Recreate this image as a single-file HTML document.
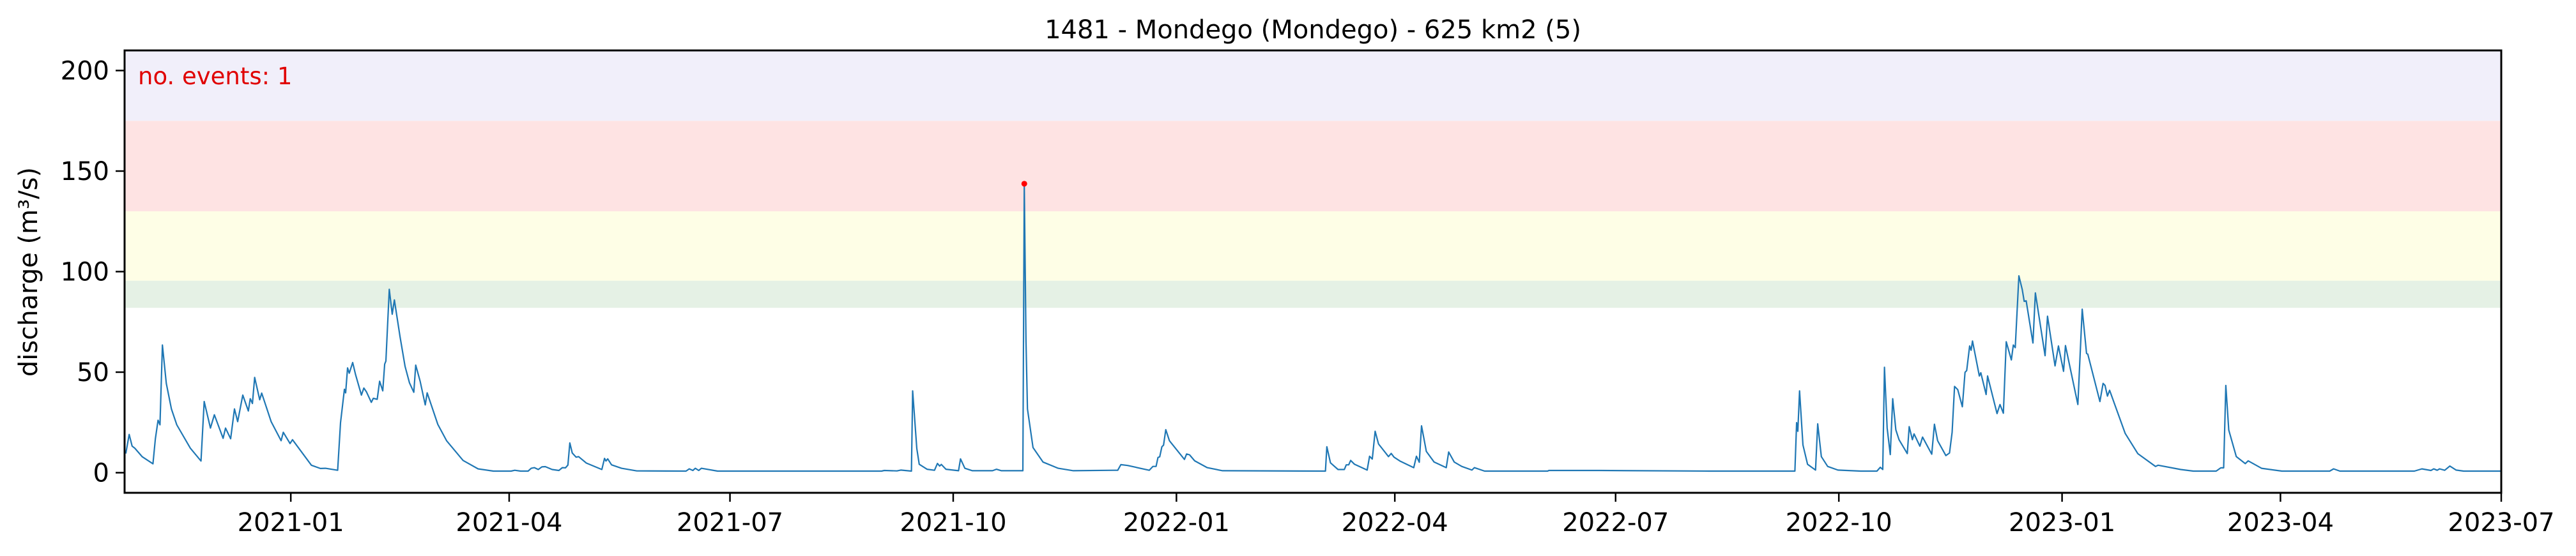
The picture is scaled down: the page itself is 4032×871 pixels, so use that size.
<!DOCTYPE html>
<html><head><meta charset="utf-8"><style>
html,body{margin:0;padding:0;background:#fff;}
svg{display:block;font-family:"DejaVu Sans","Liberation Sans",sans-serif;}
</style></head><body>
<svg id="chart" width="4032" height="871" viewBox="0 0 4032 871" xmlns="http://www.w3.org/2000/svg">
<rect width="4032" height="871" fill="#fff"/>
<g id="bands"></g>
<g id="series"></g>
<rect x="195" y="79" width="3720" height="693" fill="none" stroke="#000" stroke-width="3"/>
<g id="yaxis"></g>
<g id="xaxis"></g>
<text x="2055" y="60" font-size="40" text-anchor="middle" fill="#000">1481 - Mondego (Mondego) - 625 km2 (5)</text>
<text transform="translate(58,426) rotate(-90)" font-size="40" text-anchor="middle" fill="#000">discharge (m³/s)</text>
<text x="216" y="132" font-size="37" fill="#e00000">no. events: 1</text>
</svg>
<script>
// ---- data ----
const dayOffsets = [0.5,1.9,3.1,4.2,7.3,11.7,12.7,13.8,14.6,15.6,17.2,19.3,21.5,27.1,31.5,32.8,35.4,37,40.6,41.6,43.7,45.3,46.6,48.7,51,51.8,52.7,53.6,55.7,56.5,60.4,64.5,65.4,68.2,69.2,77,80.7,82.8,87.8,89,90.6,91.1,91.9,92.6,94,95.2,97.6,98.6,99.7,101.7,102.5,104.1,105.1,106.4,107.2,107.7,109.1,110.3,111.2,113.5,115.6,117.4,119.2,120,121.8,123.9,124.7,129.1,132.7,139.5,145.7,152,159.3,160.8,163.2,
166.3,167.6,168.9,170.5,172,173.4,176.2,179,180.4,181.7,182.7,183.5,184.5,186.1,187.1,190.3,196.7,197.8,198.4,199.1,200.7,204.8,211.1,231.4,232.7,234.2,235.2,236.6,237.7,244.4,312,313.1,318.3,319.9,324.3,324.8,
326.5,327.5,330.7,333.8,335,335.9,336.6,338.5,343.7,344.5,346.3,349.4,357.7,359.3,361.4,370.2,370.8,371.5,372.1,374.4,378.5,384.8,391,407.7,409.3,410.6,413.4,422.3,423.8,425.1,425.9,426.6,427.5,428.2,429.1,430.6,436.8,437.7,438.9,441,446.2,452.5,
494.9,495.5,497,500.1,502.7,503.5,504.5,505.3,506.9,512.1,513.1,514.2,515.4,516.8,520.9,522,523.2,525.6,531.3,532.4,533.6,534.5,536.5,539.7,544.7,545.7,548,551.1,555.3,556.3,560.5,586.5,587,607.8,652.9,
688.4,689.1,689.6,690.3,691.7,693.6,696.9,697.8,699.3,701.9,706.1,715.5,722.2,723.6,724.6,725.3,726.4,727.7,728.7,730,731.3,734.7,735.5,736.8,737.5,739.9,741,744.8,745.9,747.2,750.6,752.1,753.2,754.2,755.5,757.4,758.5,759.2,760.4,761,761.6,764.4,765,767.2,767.8,771.7,772.9,774.3,775.5,777.6,778.4,779.2,780.7,782.1,782.9,783.7,786.5,787.5,791.5,792.5,795.6,797,799.1,799.9,805,806.8,808.6,809.1,814.1,815.4,816.2,
817.2,818.1,824.5,829.7,837,838.1,847.4,852.6,862,863.9,865.1,866,867.2,870.3,874,875.2,880.7,889.1,908.8,910.4,913,943.7,946.8,950.5,951.7,953.1,954.1,956.2,958.3,960.9,964,979.4];
const discharge = [9.5,19,13.2,12.2,7.9,4.4,16.9,26.1,23.8,63.5,44.4,31.7,23.8,12.2,5.8,35.4,22.2,28.8,17.1,22.2,16.9,31.7,25.4,38.6,30.7,36.8,34.4,47.4,36.3,39.6,25.4,15.9,20.1,14.5,16.4,3.7,2.1,2.2,1.2,24.9,41.5,39.7,52.1,49.5,54.8,48.7,38.6,42.1,40.2,35,37,36.5,45.5,40.7,54,55.5,91.2,78.8,85.9,67.7,52.9,44.7,40,53.5,45.5,33.7,39.7,24,15.9,6.1,1.9,0.8,0.8,1.2,0.8,
0.8,2.2,2.5,1.6,2.9,3,1.6,1.1,2.5,2.4,3.8,14.8,9.8,7.7,8,4.8,1.6,7.1,5.8,6.9,3.9,2.2,0.9,0.8,1.9,1.1,2.2,1.1,2.2,0.8,0.8,1.1,0.9,1.3,0.8,40.7,
12,4.2,1.7,1.2,4.6,3.3,4.1,1.7,1,6.9,2.2,1,1,1.7,1,1,143.7,65.6,31.7,12.5,5.3,2.2,1,1.2,1.2,4,3.6,1.2,3.1,3.1,7.6,7.9,12.9,13.7,21.4,15.9,6.6,9.3,8.9,5.9,2.5,1,
0.8,12.9,4.9,1.6,1.6,3.9,3.9,6.1,4.2,1.3,8.2,6.8,20.6,14.3,8,9.6,7.7,5.8,2.5,8.2,5.2,23.3,10.6,5.3,2.5,10.3,5.3,3.1,1.3,2.5,0.8,0.8,1.1,1.1,0.8,
0.8,24.9,20.6,40.7,13.8,4.2,1.3,24.3,8,3.1,1.3,0.8,0.8,2.7,1.6,52.4,22.2,9,36.8,21.3,16.4,9.5,22.9,16.4,19.3,13.2,17.7,9.2,24.1,15.9,8.5,9.8,20.1,42.9,41.3,32.8,49.9,50.8,63,60.9,65.5,48.1,49.7,38.9,48.1,29.4,33.9,29.6,65.1,56.1,63.5,62.2,97.9,91,85.2,85.5,64.5,89.4,58.2,77.8,53.1,63,50.4,63.2,33.9,81.3,59.3,59,35.4,44.4,43.4,
38.1,41,19.6,9.5,3.1,3.7,1.6,0.8,0.8,2.4,2.4,43.4,21.2,8,4.5,5.9,2.2,0.8,0.8,1.9,0.8,0.8,1.9,1.1,1.9,1.2,1.9,1.2,3.3,1.3,0.8,0.8];
const eventDays = [370.8];
const eventValues = [143.7];
const bandLows = [82, 95.5, 130, 175];
const bandHighs = [95.5, 130, 175, 210];
const bandColors = ["#e5f1e5", "#fefee6", "#fee3e3", "#f1effa"];
const yTicks = [0, 50, 100, 150, 200];
const xTickLabels = ["2021-01","2021-04","2021-07","2021-10","2022-01","2022-04","2022-07","2022-10","2023-01","2023-04","2023-07"];

// ---- axes ----
const X0 = 195, X1 = 3915, Y0 = 772, Y1 = 79;
const xMin = 0, xMax = 979.5, yMin = -10, yMax = 210;
const xs = d => X0 + (d - xMin) / (xMax - xMin) * (X1 - X0);
const ys = v => Y0 - (v - yMin) / (yMax - yMin) * (Y0 - Y1);
const dateToDay = s => { const [y,m] = s.split('-').map(Number); return (Date.UTC(y, m-1, 1) - Date.UTC(2021,0,1)) / 86400000 + 68.5; };
const NS = "http://www.w3.org/2000/svg";
function mk(tag, attrs, parent) { const e = document.createElementNS(NS, tag); for (const k in attrs) e.setAttribute(k, attrs[k]); parent.appendChild(e); return e; }

const bands = document.getElementById('bands');
bandLows.forEach((lo, i) => {
  const r = mk('rect', {x: X0, y: ys(bandHighs[i]), width: X1 - X0, height: ys(lo) - ys(bandHighs[i]), fill: bandColors[i]}, bands);
  
  
});

const series = document.getElementById('series');
const pts = dayOffsets.map((d, i) => xs(d).toFixed(1) + ',' + ys(discharge[i]).toFixed(1)).join(' ');
const line = mk('polyline', {points: pts, fill: 'none', stroke: '#1f77b4', 'stroke-width': 2.2, 'stroke-linejoin': 'round'}, series);


eventDays.forEach((d, i) => {
  const c = mk('circle', {cx: xs(d), cy: ys(eventValues[i]), r: 4.5, fill: '#ff0000'}, series);
  
  
});

const yaxis = document.getElementById('yaxis');
yTicks.forEach(v => {
  const t = mk('line', {x1: X0 - 14, x2: X0, y1: ys(v), y2: ys(v), stroke: '#000', 'stroke-width': 2.5}, yaxis);
  
  
  const l = mk('text', {x: X0 - 24, y: ys(v) + 14, 'font-size': 40, 'text-anchor': 'end', fill: '#000'}, yaxis);
  l.textContent = v;
  
  
});
const xaxis = document.getElementById('xaxis');
xTickLabels.forEach(s => {
  const x = xs(dateToDay(s));
  const t = mk('line', {x1: x, x2: x, y1: Y0, y2: Y0 + 14, stroke: '#000', 'stroke-width': 2.5}, xaxis);
  
  
  const l = mk('text', {x: x, y: 832, 'font-size': 40, 'text-anchor': 'middle', fill: '#000'}, xaxis);
  l.textContent = s;
  
  
});
</script>
</body></html>
